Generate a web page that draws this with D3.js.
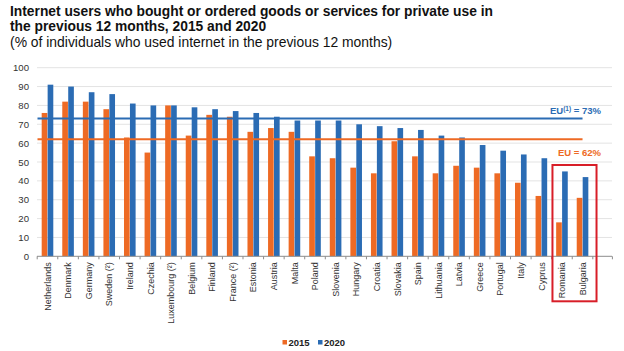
<!DOCTYPE html>
<html>
<head>
<meta charset="utf-8">
<script src="https://cdn.jsdelivr.net/npm/d3@7"></script>
<style>
  body { margin: 0; background: #fff; }
  svg { font-family: "Liberation Sans", Arial, sans-serif; }
</style>
</head>
<body>
<div class="canvas"></div>
<script>
// data
const countries = ['Netherlands', 'Denmark', 'Germany', 'Sweden (²)', 'Ireland', 'Czechia',
  'Luxembourg (²)', 'Belgium', 'Finland', 'France (²)', 'Estonia', 'Austria', 'Malta', 'Poland',
  'Slovenia', 'Hungary', 'Croatia', 'Slovakia', 'Spain', 'Lithuania', 'Latvia', 'Greece',
  'Portugal', 'Italy', 'Cyprus', 'Romania', 'Bulgaria'];
const years = ['2015', '2020'];
const values2015 = [76, 82, 82, 78, 63, 55, 80, 64, 75, 74, 66, 68, 66, 53, 52, 47, 44, 61, 53, 44, 48, 47, 44, 39, 32, 18, 31];
const values2020 = [91, 90, 87, 86, 81, 80, 80, 79, 78, 77, 76, 74, 72, 72, 72, 70, 69, 68, 67, 64, 63, 59, 56, 54, 52, 45, 42];
const euAverages = [62, 73];   // 2015, 2020
const yTicks = [0, 10, 20, 30, 40, 50, 60, 70, 80, 90, 100];
const highlighted = ['Romania', 'Bulgaria'];

const colors = { '2015': '#ee6a24', '2020': '#2b6cb4' };

const width = 624, height = 351;

const svg = d3.select('.canvas')
  .append('svg')
  .attr('width', width)
  .attr('height', height);

// title
const title = svg.append('g');
title.append('text').attr('x', 10).attr('y', 15.5)
  .attr('font-size', 13.8).attr('font-weight', 'bold').attr('fill', '#111')
  .text('Internet users who bought or ordered goods or services for private use in');
title.append('text').attr('x', 10).attr('y', 31)
  .attr('font-size', 13.8).attr('font-weight', 'bold').attr('fill', '#111')
  .text('the previous 12 months, 2015 and 2020');
title.append('text').attr('x', 10).attr('y', 47)
  .attr('font-size', 13.9).attr('fill', '#111')
  .text('(% of individuals who used internet in the previous 12 months)');

// scales - one empty slot at the end, like the original axis
const x = d3.scaleBand()
  .domain(countries.concat(['']))
  .range([37.2, 613.4])
  .paddingInner(0).paddingOuter(0);

const xSub = d3.scaleBand()
  .domain(years)
  .range([x.bandwidth() / 2 - 5.8, x.bandwidth() / 2 + 5.8])
  .paddingInner(0.05);

const y = d3.scaleLinear().domain([0, 100]).range([256.3, 67.7]);

// gridlines
svg.append('g')
  .selectAll('line')
  .data(yTicks.slice(1))
  .enter().append('line')
  .attr('x1', 37).attr('x2', 612)
  .attr('y1', d => y(d)).attr('y2', d => y(d))
  .attr('stroke', '#e3e3e3').attr('stroke-width', 1);

// y axis labels
const yAxis = d3.axisLeft(y).tickValues(yTicks).tickSize(0).tickPadding(0);
const yAxisGroup = svg.append('g').attr('transform', 'translate(29,0)').call(yAxis);
yAxisGroup.select('.domain').remove();
yAxisGroup.selectAll('text')
  .attr('font-family', '"Liberation Sans", Arial, sans-serif')
  .attr('font-size', 9.6).attr('fill', '#333');

// bars
const rows = countries.map((c, i) => ({ name: c, '2015': values2015[i], '2020': values2020[i] }));

const groups = svg.append('g').selectAll('g')
  .data(rows)
  .enter().append('g')
  .attr('transform', d => `translate(${x(d.name)},0)`);

groups.selectAll('rect')
  .data(d => years.map(yr => ({ yr, v: d[yr] })))
  .enter().append('rect')
  .attr('x', d => xSub(d.yr))
  .attr('width', xSub.bandwidth())
  .attr('y', d => y(d.v))
  .attr('height', d => y(0) - y(d.v))
  .attr('fill', d => colors[d.yr]);

// x axis line with ticks at category boundaries
const xAxisGroup = svg.append('g');
xAxisGroup.append('line')
  .attr('x1', 37).attr('x2', 612)
  .attr('y1', y(0)).attr('y2', y(0))
  .attr('stroke', '#8c8c8c').attr('stroke-width', 1);
xAxisGroup.selectAll('.tick')
  .data(x.domain().concat(['end']))
  .enter().append('line')
  .attr('x1', d => d === 'end' ? x.range()[1] - 1 : x(d))
  .attr('x2', d => d === 'end' ? x.range()[1] - 1 : x(d))
  .attr('y1', y(0)).attr('y2', y(0) + 3)
  .attr('stroke', '#8c8c8c');

// category labels, rotated
xAxisGroup.selectAll('text')
  .data(countries)
  .enter().append('text')
  .attr('transform', d => `translate(${x(d) + x.bandwidth() / 2 + 3.2},${y(0) + 6}) rotate(-90)`)
  .attr('text-anchor', 'end')
  .attr('font-size', 9).attr('fill', '#333')
  .text(d => d);

// EU average lines
const xEnd = x('Bulgaria') + x.bandwidth() / 2;
years.forEach((yr, i) => {
  svg.append('line')
    .attr('x1', 37.5).attr('x2', xEnd)
    .attr('y1', y(euAverages[i])).attr('y2', y(euAverages[i]))
    .attr('stroke', colors[yr]).attr('stroke-width', 2);
});

const lbl2020 = svg.append('text')
  .attr('x', 601).attr('y', 113.5)
  .attr('text-anchor', 'end')
  .attr('font-size', 9.5).attr('font-weight', 'bold').attr('fill', colors['2020']);
lbl2020.append('tspan').text('EU');
lbl2020.append('tspan').attr('font-size', 6.5).attr('dy', -3).text('(1)');
lbl2020.append('tspan').attr('dy', 3).text(' = ' + euAverages[1] + '%');

svg.append('text')
  .attr('x', 601).attr('y', 155.5)
  .attr('text-anchor', 'end')
  .attr('font-size', 9.5).attr('font-weight', 'bold').attr('fill', colors['2015'])
  .text('EU = ' + euAverages[0] + '%');

// red box around highlighted countries
const boxX0 = x(highlighted[0]) + 0.8;
const boxX1 = x(highlighted[1]) + x.bandwidth() + 3.7;
svg.append('rect')
  .attr('x', boxX0).attr('y', 165)
  .attr('width', boxX1 - boxX0).attr('height', 301.3 - 165)
  .attr('fill', 'none')
  .attr('stroke', '#d81e28').attr('stroke-width', 2);

// legend
const legend = svg.append('g').attr('transform', 'translate(282.5,342.5)');
const legendX = d3.scaleOrdinal().domain(years).range([0, 35.5]);
years.forEach(yr => {
  const g = legend.append('g').attr('transform', `translate(${legendX(yr)},0)`);
  g.append('rect').attr('x', 0).attr('y', -2.5).attr('width', 4.5).attr('height', 4.5).attr('fill', colors[yr]);
  g.append('text').attr('x', 6).attr('y', 3.5)
    .attr('font-size', 9.5).attr('font-weight', 'bold').attr('fill', '#222')
    .text(yr);
});
</script>
</body>
</html>
